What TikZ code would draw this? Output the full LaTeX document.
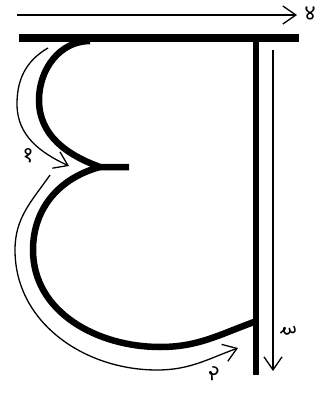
\documentclass[tikz,border=0pt]{standalone}
\usepackage{fontspec}
\newfontfamily\devfont[Script=Devanagari]{Noto Sans}
\usetikzlibrary{arrows.meta}
\begin{document}
\begin{tikzpicture}[x=1pt,y=-1pt,
  thick stroke/.style={line width=6.5pt,line cap=butt},
  guide/.style={line width=1.3pt,-{Straight Barb[length=13pt,width=18pt,line width=1.3pt]}},
  num/.style={font=\devfont\fontsize{22}{22}\selectfont,inner sep=0pt}]
\useasboundingbox (0,0) rectangle (327,394);
% coordinates
\coordinate (barL) at (19,38);
\coordinate (barR) at (299,38);
\coordinate (stemT) at (256,36);
\coordinate (stemB) at (256,375);
\coordinate (ub) at (90,41);
\coordinate (ul) at (39,100);
\coordinate (cusp) at (100,167);
\coordinate (stub) at (129,167);
\coordinate (ll) at (33,250);
\coordinate (lb) at (160,347);
\coordinate (lj) at (254,322);
% letter
\draw[line width=8pt] (barL) -- (barR);
\draw[thick stroke] (stemT) -- (stemB);
\draw[thick stroke] (ub) to[out=180,in=90] (ul) to[out=-90,in=160] (cusp) -- (stub);
\draw[thick stroke] (cusp) to[out=195,in=90] (ll) to[out=-90,in=180] (lb) to[out=0,in=200] (lj);
% guide arrows
\coordinate (a4s) at (17,15);
\coordinate (a4e) at (297,15);
\draw[guide] (a4s) -- (a4e);
\coordinate (a1s) at (48,48);
\coordinate (a1m) at (17,104);
\coordinate (a1e) at (69,166);
\draw[guide] (a1s) to[out=210,in=90] (a1m) to[out=-90,in=155] (a1e);
\coordinate (a2s) at (50,175);
\coordinate (a2m) at (15,250);
\coordinate (a2b) at (157,370);
\coordinate (a2e) at (238,348);
\draw[guide] (a2s) to[out=235,in=90] (a2m) to[out=-90,in=180] (a2b) to[out=0,in=200] (a2e);
\coordinate (a3s) at (273,50);
\coordinate (a3e) at (273,371);
\draw[guide] (a3s) -- (a3e);
% labels
\node[num] (n4) at (310,14) {४};
\node[num] (n1) at (28,156) {१};
\node[num,rotate=-25] (n2) at (214,374) {२};
\node[num,rotate=-80] (n3) at (288,331) {३};
\end{tikzpicture}
\end{document}
